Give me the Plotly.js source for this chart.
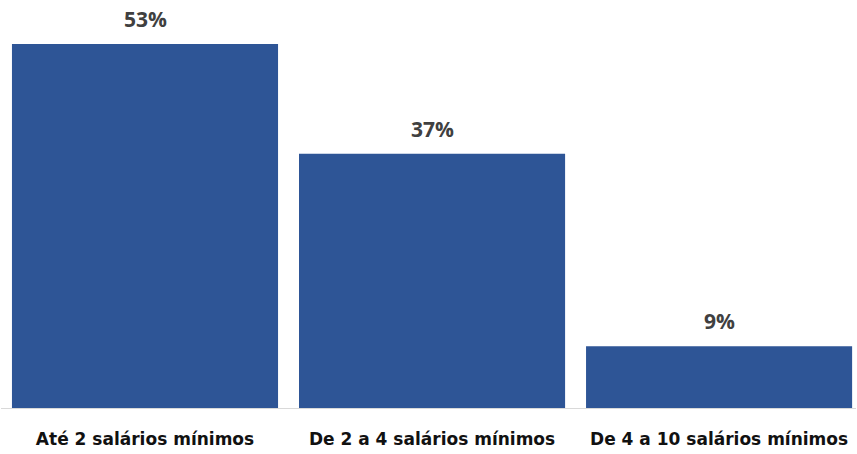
<!DOCTYPE html>
<html>
<head>
<meta charset="utf-8">
<script src="https://cdn.plot.ly/plotly-3.0.1.min.js"></script>
<style>html,body{margin:0;padding:0;background:#fff;}#chart{width:857px;height:454px;}</style>
</head>
<body>
<div id="chart"></div>
<script>
const categories = ["Até 2 salários mínimos", "De 2 a 4 salários mínimos", "De 4 a 10 salários mínimos"];
const values = [53, 37, 9];
const valueLabels = ["53%", "37%", "9%"];

const trace = {
  type: "bar",
  x: categories,
  y: values,
  marker: {color: "#2E5596"},
  hoverinfo: "skip"
};

const annotations = categories.map((c, i) => ({
  x: c, y: values[i], text: "<b>" + valueLabels[i] + "</b>",
  showarrow: false, yanchor: "bottom", yshift: 9,
  font: {family: "Open Sans, sans-serif", size: 21, color: "#404040"}
}));

const layout = {
  width: 857, height: 454,
  margin: {l: 1, r: 1, t: 0, b: 46},
  paper_bgcolor: "#fff", plot_bgcolor: "#fff",
  bargap: 0.073,
  showlegend: false,
  xaxis: {
    type: "category",
    range: [-0.5017, 2.477],
    showline: true, linecolor: "#d9d9d9", linewidth: 1,
    ticks: "outside", ticklen: 16, tickcolor: "rgba(0,0,0,0)",
    tickfont: {family: "DejaVu Sans, sans-serif", size: 17, color: "#111111", weight: "bold"},
    showgrid: false, zeroline: false, fixedrange: true
  },
  yaxis: {
    range: [0, 59.4],
    visible: false, showgrid: false, zeroline: false, fixedrange: true
  },
  annotations: annotations
};

Plotly.newPlot("chart", [trace], layout, {displayModeBar: false, staticPlot: true});
</script>
</body>
</html>
